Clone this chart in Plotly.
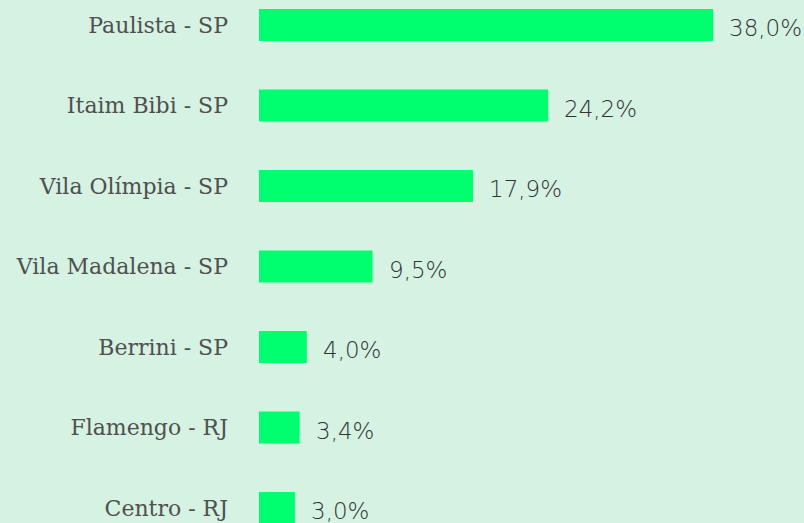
import plotly.graph_objects as go

categories = ["Paulista - SP", "Itaim Bibi - SP", "Vila Olímpia - SP", "Vila Madalena - SP",
              "Berrini - SP", "Flamengo - RJ", "Centro - RJ"]
values = [38.0, 24.2, 17.9, 9.5, 4.0, 3.4, 3.0]
value_labels = ["38,0%", "24,2%", "17,9%", "9,5%", "4,0%", "3,4%", "3,0%"]

BG = "#d5f2e3"
BAR = "#00ff6e"

fig = go.Figure(go.Bar(
    x=values, y=categories, orientation="h",
    marker=dict(color=BAR, line=dict(width=0)),
    width=0.3975, hoverinfo="skip",
))

for v, c, t in zip(values, categories, value_labels):
    fig.add_annotation(x=v, y=c, text=t, showarrow=False, xanchor="left",
                       xshift=14, yshift=-3,
                       font=dict(family="DejaVu Sans", size=23, color="#333333", weight=200))

fig.update_layout(
    width=804, height=523,
    margin=dict(l=259, r=0, t=0, b=0),
    paper_bgcolor=BG, plot_bgcolor=BG,
    showlegend=False,
    xaxis=dict(range=[0, 45.6], visible=False, fixedrange=True),
    yaxis=dict(type="category", range=[6.186, -0.3106], showgrid=False, zeroline=False,
               showline=False, ticks="", ticklabelstandoff=30,
               tickfont=dict(family="DejaVu Serif", size=22, color="#505050")),
)

fig.write_html("out.html", config={"displayModeBar": False},
               post_script="document.body.style.margin='0';document.body.style.background='" + BG + "';")
